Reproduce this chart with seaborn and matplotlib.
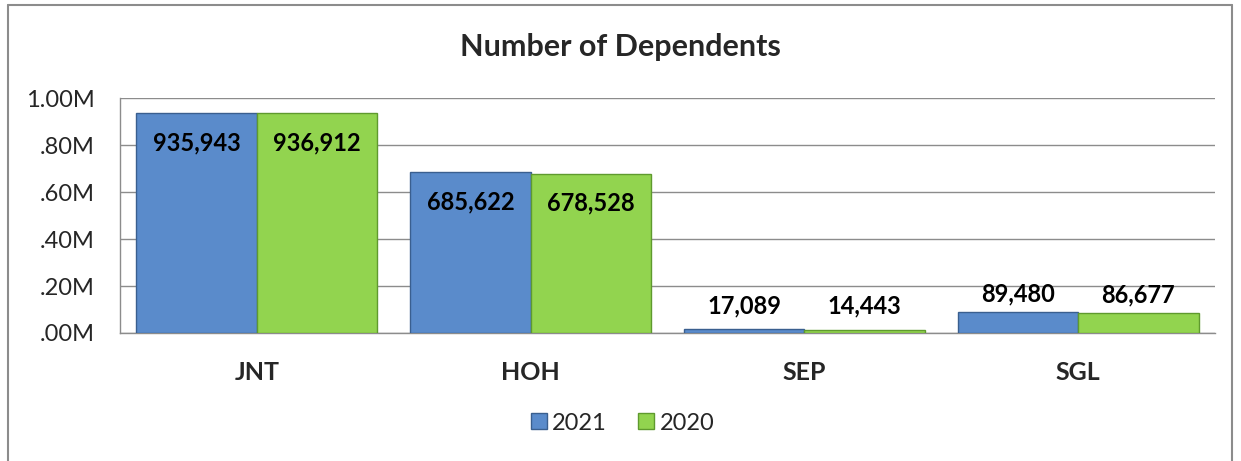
import pandas as pd
import matplotlib.pyplot as plt
from matplotlib.lines import Line2D
import seaborn as sns

# Data
categories = ['JNT', 'HOH', 'SEP', 'SGL']
years = ['2021', '2020']
values_2021 = [935943, 685622, 17089, 89480]
values_2020 = [936912, 678528, 14443, 86677]
y_ticks = [0, 200000, 400000, 600000, 800000, 1000000]
y_tick_labels = ['.00M', '.20M', '.40M', '.60M', '.80M', '1.00M']

df = pd.DataFrame({
    'category': categories * 2,
    'year': [years[0]] * 4 + [years[1]] * 4,
    'value': values_2021 + values_2020,
})

sns.set_style('white')
plt.rcParams['font.family'] = ['Lato', 'DejaVu Sans']

fig = plt.figure(figsize=(12.41, 4.61), dpi=100)
ax = fig.add_axes([0.0967, 0.2777, 0.8823, 0.5093])

palette = {'2021': '#5a8bcb', '2020': '#92d44f'}
edges = {'2021': '#3a5f8f', '2020': '#5f9a2e'}
sns.barplot(data=df, x='category', y='value', hue='year', order=categories,
            hue_order=years, palette=palette, width=0.88, gap=0,
            saturation=1, legend=False, ax=ax, zorder=3)

for cont, yr in zip(ax.containers, years):
    for bar in cont:
        bar.set_edgecolor(edges[yr])
        bar.set_linewidth(1.0)

# data labels: inside the top for tall bars, above short ones
for cont in ax.containers:
    for bar in cont:
        h = bar.get_height()
        cx = bar.get_x() + bar.get_width() / 2
        if h > 200000:
            ypos = h - 126000
        else:
            ypos = max(h, 40000) + 75000
        ax.text(cx, ypos, f'{h:,.0f}', ha='center', va='center',
                fontsize=17, fontweight='bold', color='black', zorder=5)

ax.set_ylim(0, 1000000)
ax.set_xlim(-0.5, 3.5)
ax.set_yticks(y_ticks)
ax.set_yticklabels(y_tick_labels, fontsize=17)
ax.yaxis.grid(True, color='#8c8c8c', linewidth=1.0, zorder=0)
ax.set_axisbelow(True)

ax.set_xticks(range(len(categories)))
ax.set_xticklabels(categories, fontsize=18, fontweight='bold')
ax.set_xticks([-0.5, 0.5, 1.5, 2.5, 3.5], minor=True)
ax.tick_params(axis='x', which='major', length=0, pad=20)
ax.tick_params(axis='x', which='minor', length=7, color='#8c8c8c', direction='out')
ax.tick_params(axis='y', length=8, color='#8c8c8c', direction='out', pad=10)
ax.set_xlabel('')
ax.set_ylabel('')

for s in ['top', 'right']:
    ax.spines[s].set_visible(False)
for s in ['left', 'bottom']:
    ax.spines[s].set_color('#8c8c8c')
    ax.spines[s].set_linewidth(1.0)

fig.text(0.5, 0.898, 'Number of Dependents', ha='center', va='center',
         fontsize=22, fontweight='bold')

handles = [Line2D([0], [0], marker='s', linestyle='none', markersize=12,
                  markerfacecolor=palette[y], markeredgecolor=edges[y]) for y in years]
fig.legend(handles, years, loc='center', bbox_to_anchor=(0.5, 0.082), ncol=2,
           frameon=False, fontsize=17, handletextpad=0.05, columnspacing=1.2,
           handlelength=1.0)

# outer chart border
fig.add_artist(Line2D([8 / 1241, 8 / 1241], [0, 1 - 5 / 461], transform=fig.transFigure,
                      color='#8c8c8c', linewidth=1.5))
fig.add_artist(Line2D([8 / 1241, 1232 / 1241], [1 - 5 / 461, 1 - 5 / 461],
                      transform=fig.transFigure, color='#8c8c8c', linewidth=1.5))
fig.add_artist(Line2D([1232 / 1241, 1232 / 1241], [0, 1 - 5 / 461], transform=fig.transFigure,
                      color='#8c8c8c', linewidth=1.5))

fig.savefig('out.png', dpi=100)
